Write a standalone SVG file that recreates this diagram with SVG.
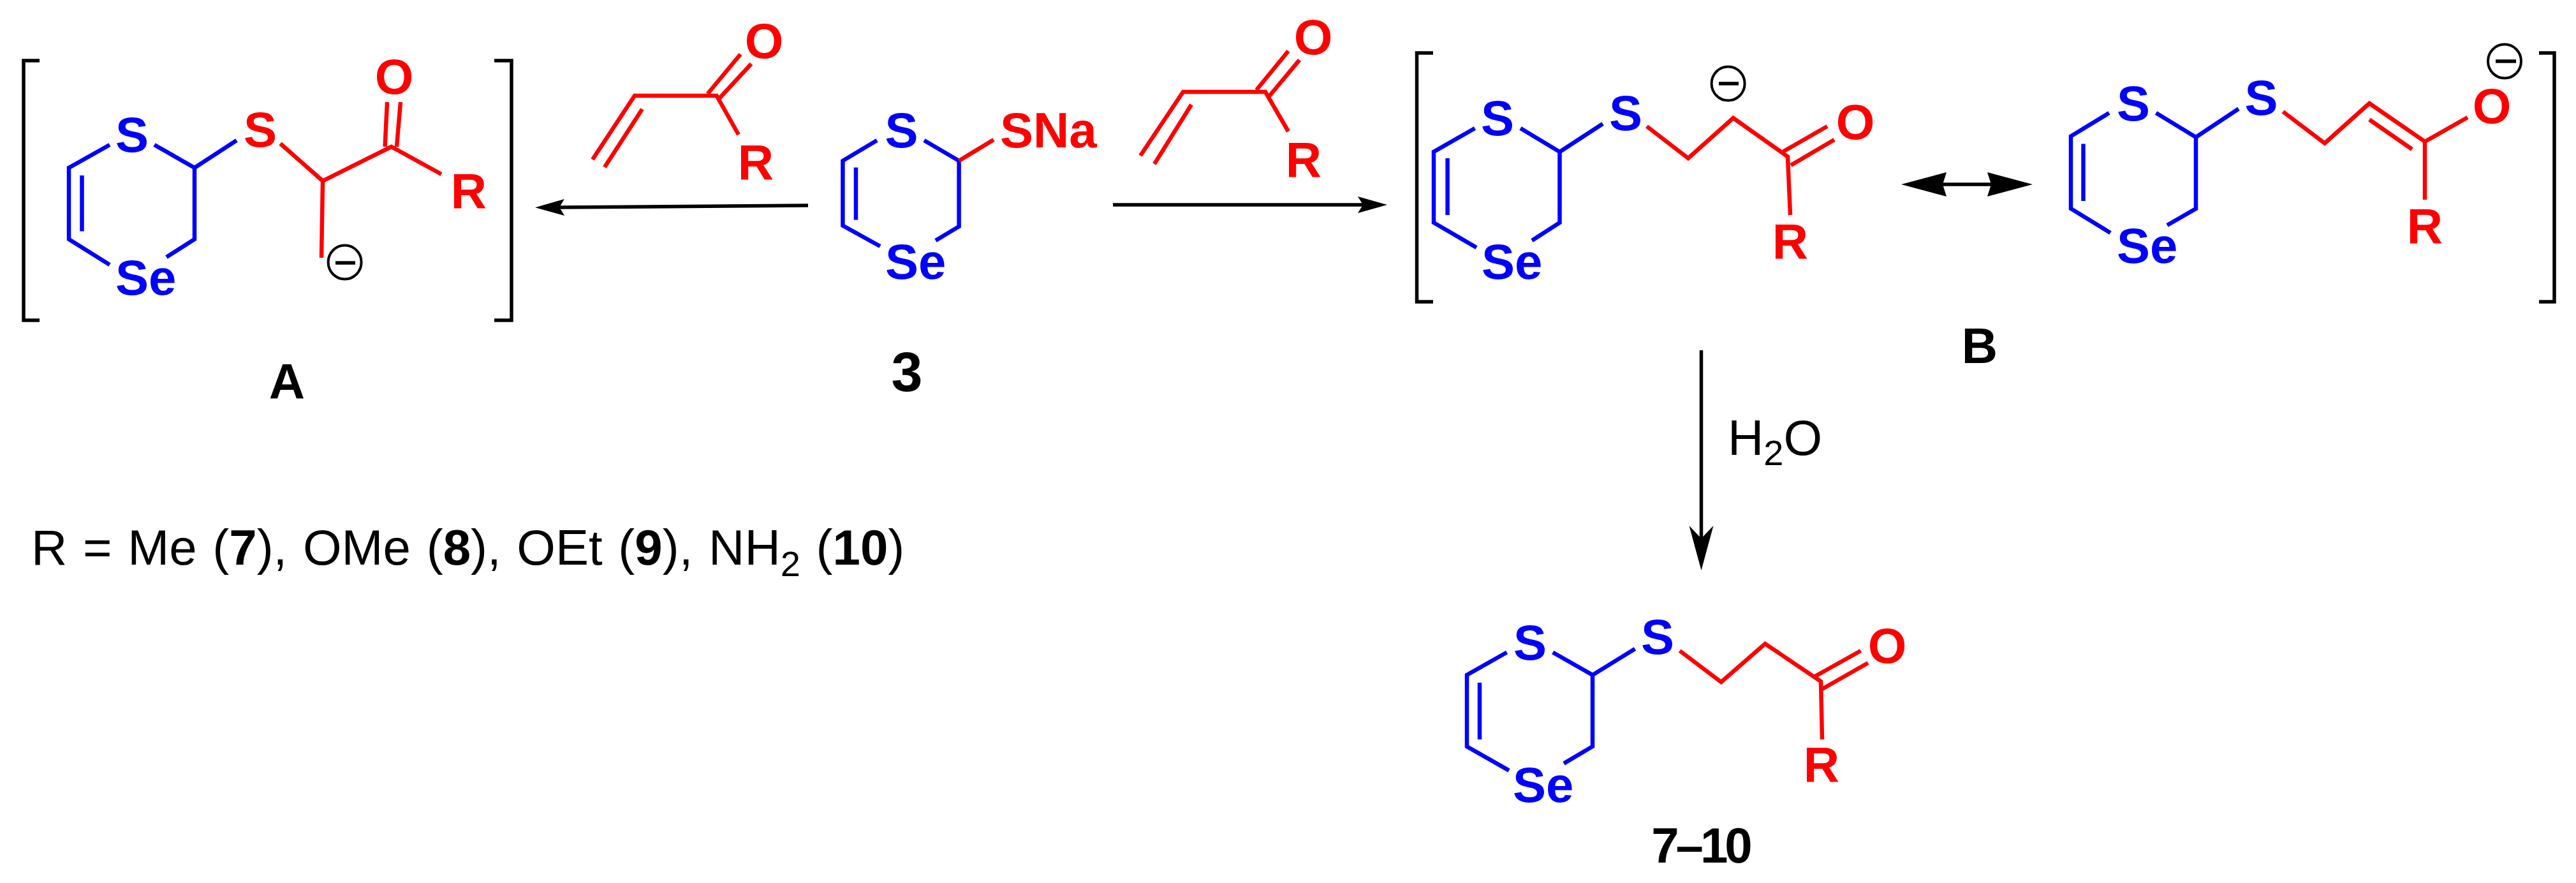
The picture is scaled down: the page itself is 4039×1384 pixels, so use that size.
<svg xmlns="http://www.w3.org/2000/svg" width="4039" height="1384" viewBox="0 0 4039 1384">
<style>
.bd{fill:none;stroke-width:6.5;stroke-linejoin:miter;stroke-linecap:butt}
.b{stroke:#0000ff}.r{stroke:#ff0000}
.t{font-family:"Liberation Sans",Arial,sans-serif;font-size:78px;font-weight:700}
.tb{fill:#0000ff}.tr{fill:#ff0000}.tk{fill:#000}
.m{text-anchor:middle}
.reg{font-family:"Liberation Sans",Arial,sans-serif;font-size:78px;font-weight:400;fill:#000}
.sub{font-size:56px}
.bold{font-weight:700}
.br{fill:none;stroke:#000;stroke-width:5.5}
.ch{fill:none;stroke:#000;stroke-width:4}
.mn{stroke:#000;stroke-width:5.5}
.ar{fill:none;stroke:#000;stroke-width:5.5}
</style>
<defs>
<marker id="hs" markerUnits="userSpaceOnUse" markerWidth="60" markerHeight="40" refX="8" refY="13" orient="auto" overflow="visible"><path d="M46 13L0 0L8 13L0 26Z" fill="#000"/></marker>
<marker id="hd" markerUnits="userSpaceOnUse" markerWidth="80" markerHeight="50" refX="20" refY="19" orient="auto" overflow="visible"><path d="M70 19L0 0L20 19L0 38Z" fill="#000"/></marker>
<marker id="hl" markerUnits="userSpaceOnUse" markerWidth="80" markerHeight="50" refX="6" refY="19" orient="auto-start-reverse" overflow="visible"><path d="M71 19L0 0L6 19L0 38Z" fill="#000"/></marker>
</defs>
<g id="connectors">
<line class="ar" x1="1267" y1="322" x2="877" y2="325" marker-end="url(#hs)"/>
<line class="ar" x1="1745" y1="321" x2="2137" y2="321" marker-end="url(#hs)"/>
<line class="ar" x1="3046" y1="289" x2="3122" y2="289" marker-start="url(#hl)" marker-end="url(#hl)"/>
<line class="ar" x1="2667.5" y1="549" x2="2667.5" y2="844" marker-end="url(#hd)"/>
</g>
<g id="node-A">
<path class="br" d="M62 95H37V502H62"/><path class="br" d="M775 95H802V502H775"/>
<path class="bd b" d="M172 227L108 263V375L172 415"/><path class="bd b" d="M128.500 275V362.500"/>
<path class="bd b" d="M242 227L305 263V375L261 403"/><path class="bd b" d="M305 263L371 220"/>
<path class="bd r" d="M439.500 225L506 283.500L613.600 230L692 273"/><path class="bd r" d="M506 283.500L504 404"/>
<path class="bd r" d="M603.600 230L607 160M622 230L628 160"/>
<text class="t tb m" x="207" y="238">S</text><text class="t tb" x="181" y="462">Se</text>
<text class="t tr m" x="408" y="230">S</text><text class="t tr m" x="618" y="147">O</text><text class="t tr m" x="735" y="326">R</text>
<ellipse class="ch" cx="540.600" cy="411" rx="26" ry="26.500"/><line class="mn" x1="526" y1="412" x2="557" y2="412"/>
<text class="t tk m" x="450" y="625">A</text>
</g>
<g id="node-reagent-left">
<path class="bd r" d="M929 250L995 150H1123.600L1158 211"/><path class="bd r" d="M948 262L1007 171"/>
<path class="bd r" d="M1109.500 147L1161 85M1128 154L1178 100"/>
<text class="t tr m" x="1198" y="91">O</text><text class="t tr m" x="1185" y="281">R</text>
</g>
<g id="node-3">
<path class="bd b" d="M1375 220L1321.400 252V353.500L1380 386"/><path class="bd b" d="M1342 262.500V344.600"/>
<path class="bd b" d="M1449 220L1503.600 252V355L1467 377"/><path class="bd r" d="M1503.600 252L1558 219"/>
<text class="t tb m" x="1413.400" y="231">S</text><text class="t tb" x="1388" y="437">Se</text>
<text class="t tr" x="1568" y="231">SNa</text>
<text class="t tk m" style="font-size:88px" x="1422" y="613">3</text>
</g>
<g id="node-reagent-right">
<path class="bd r" d="M1788 244L1855 144H1984L2020 206"/><path class="bd r" d="M1810 257L1868 164"/>
<path class="bd r" d="M1970 141L2020 80M1989 152L2037.500 94"/>
<text class="t tr m" x="2059" y="85">O</text><text class="t tr m" x="2044" y="277">R</text>
</g>
<g id="node-B">
<path class="br" d="M2247 83H2221.500V473H2247"/><path class="br" d="M3981 83H4005V473H3981"/>
<path class="bd b" d="M2312.500 201L2248 238V349L2315 388"/><path class="bd b" d="M2269.600 248V337"/>
<path class="bd b" d="M2384 201L2445.500 238V349L2402 377"/><path class="bd b" d="M2445.500 238L2513 194"/>
<path class="bd r" d="M2582 198L2647 248L2717.600 185L2803 245.500L2807 337"/>
<path class="bd r" d="M2796 237.500L2865 198M2808 259L2876 219"/>
<text class="t tb m" x="2348" y="212">S</text><text class="t tb" x="2323" y="437">Se</text><text class="t tb m" x="2549" y="204">S</text>
<text class="t tr m" x="2909" y="218">O</text><text class="t tr m" x="2807" y="405">R</text>
<ellipse class="ch" cx="2709.600" cy="131" rx="26" ry="26.500"/><line class="mn" x1="2695" y1="131" x2="2726" y2="131"/>
<path class="bd b" d="M3307 177L3247 213.500V327L3309 365"/><path class="bd b" d="M3266.500 225.500V315"/>
<path class="bd b" d="M3380.500 177L3443 215V327L3398 353"/><path class="bd b" d="M3443 215L3510 170.500"/>
<path class="bd r" d="M3579.500 175L3645 224.500L3715 162L3802 222L3869 184"/><path class="bd r" d="M3802 222V313"/><path class="bd r" d="M3715 187.500L3782 234"/>
<text class="t tb m" x="3345" y="189">S</text><text class="t tb" x="3319" y="412">Se</text><text class="t tb m" x="3545.500" y="180">S</text>
<text class="t tr m" x="3907" y="193">O</text><text class="t tr m" x="3802" y="381">R</text>
<ellipse class="ch" cx="3927" cy="96" rx="26" ry="26.500"/><line class="mn" x1="3913" y1="96" x2="3945" y2="96"/>
<text class="t tk m" x="3104" y="569">B</text>
</g>
<g id="node-water">
<text class="reg" x="2709" y="713">H<tspan class="sub" dy="16">2</tspan><tspan dy="-16">O</tspan></text>
</g>
<g id="node-product">
<path class="bd b" d="M2362.600 1022.500L2300 1058V1170L2366 1207.600"/><path class="bd b" d="M2320 1070V1159"/>
<path class="bd b" d="M2434.700 1022.500L2497 1058V1170L2452 1196.600"/><path class="bd b" d="M2497 1058L2563.500 1017"/>
<path class="bd r" d="M2633.700 1020L2698.700 1069L2767.600 1009L2855 1068L2857 1159"/>
<path class="bd r" d="M2846 1060L2917.500 1020M2857 1080L2929 1039"/>
<text class="t tb m" x="2399" y="1034">S</text><text class="t tb" x="2372" y="1257">Se</text><text class="t tb m" x="2599" y="1025">S</text>
<text class="t tr m" x="2959" y="1039">O</text><text class="t tr m" x="2856" y="1225">R</text>
<text class="t tk m" style="letter-spacing:-5px" x="2666" y="1352">7–10</text>
</g>
<g id="node-legend">
<text class="reg" style="word-spacing:3px" x="49" y="885">R = Me (<tspan class="bold">7</tspan>), OMe (<tspan class="bold">8</tspan>), OEt (<tspan class="bold">9</tspan>), NH<tspan class="sub" dy="18">2</tspan><tspan dy="-18"> (</tspan><tspan class="bold">10</tspan>)</text>
</g>
</svg>
